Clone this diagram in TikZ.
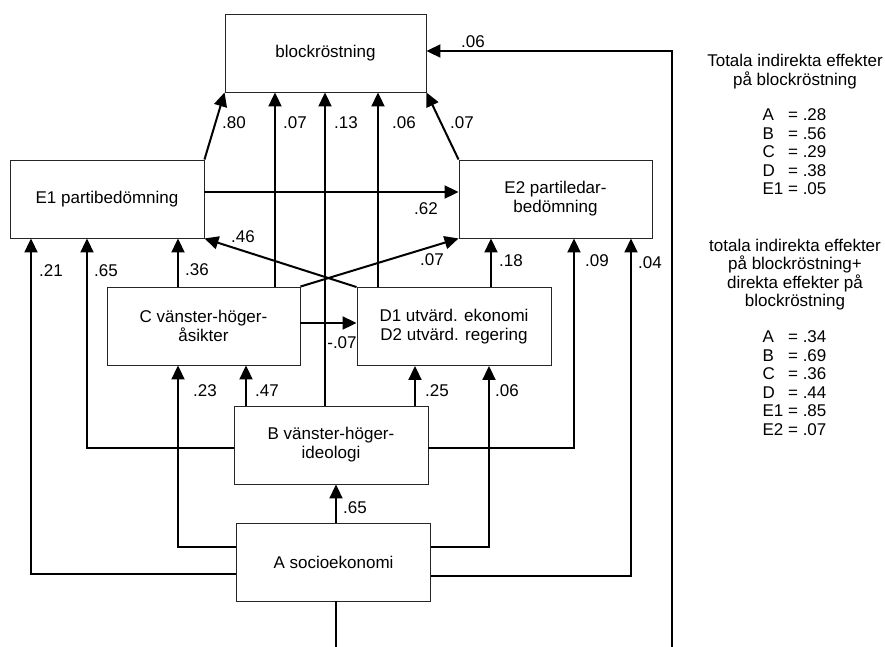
\documentclass[tikz,border=0pt]{standalone}
\usepackage{fontspec}
\setmainfont{Liberation Sans}
\usetikzlibrary{arrows.meta}
\tikzset{
  >={Triangle[length=14pt, width=13pt]},
  every picture/.style={line join=miter},
  box/.style={draw=black!85, line width=0.9pt, minimum width=194pt, minimum height=78pt,
    align=center, font=\fontsize{17}{19}\selectfont},
  arr/.style={->, line width=2pt},
  lab/.style={inner sep=0pt, font=\fontsize{17}{19}\selectfont},
  legend/.style={inner sep=0pt, align=center, font=\fontsize{17}{18.5}\selectfont},
}

\begin{document}
\begin{tikzpicture}[x=1pt, y=-1pt]
  \clip (0,0) rectangle (885,646);
  % ---------------- boxes
  \node[box, minimum width=201pt] (blk) at (325.5,53) {blockröstning};
  \node[box] (E1) at (107,199) {E1 partibedömning};
  \node[box, minimum width=193pt] (E2) at (555.5,199) {E2 partiledar-\\bedömning};
  \node[box, minimum width=193pt] (C) at (203.5,326) {C vänster-höger-\\åsikter};
  \node[box] (D) at (454,326.5) {D1 utvärd. ekonomi\\D2 utvärd. regering};
  \node[box] (B) at (331,445) {B vänster-höger-\\ideologi};
  \node[box] (A) at (333.5,562) {A socioekonomi};
  % ---------------- direct paths to blockröstning
  \draw[arr] (E1.north east) -- (blk.south west);
  \draw[arr] (C.north -| 275,0) -- (blk.south -| 275,0);
  \draw[arr] (B.north -| 325,0) -- (blk.south -| 325,0);
  \draw[arr] (D.north -| 378,0) -- (blk.south -| 378,0);
  \draw[arr] (E2.north west) -- (blk.south east);
  \draw[arr] (A.south -| 336,0) -- (336,700) -| (672,51) -- (blk.east |- 0,51);
  % ---------------- paths to E1 and E2
  \draw[arr] (E1.east |- 0,192) -- (E2.west |- 0,192);
  \draw[arr] (D.north west) -- (E1.south east);
  \draw[arr] (C.north east) -- (E2.south west);
  \draw[arr] (C.north -| 178,0) -- (E1.south -| 178,0);
  \draw[arr] (D.north -| 491,0) -- (E2.south -| 491,0);
  \draw[arr] (B.west |- 0,448) -| (E1.south -| 87,0);
  \draw[arr] (A.west |- 0,574) -| (E1.south -| 31,0);
  \draw[arr] (B.east |- 0,448) -| (E2.south -| 574,0);
  \draw[arr] (A.east |- 0,576) -| (E2.south -| 631,0);
  % ---------------- paths to C and D
  \draw[arr] (C.east |- 0,323) -- (D.west |- 0,323);
  \draw[arr] (A.west |- 0,547) -| (C.south -| 178,0);
  \draw[arr] (B.north -| 246,0) -- (C.south -| 246,0);
  \draw[arr] (B.north -| 415,0) -- (D.south -| 415,0);
  \draw[arr] (A.east |- 0,547) -| (D.south -| 489,0);
  \draw[arr] (A.north -| 336,0) -- (B.south -| 336,0);
  % ---------------- coefficients
  \node[lab] (w1) at (234,123) {.80};
  \node[lab] (w2) at (295,123) {.07};
  \node[lab] (w3) at (346,123) {.13};
  \node[lab] (w4) at (404,123) {.06};
  \node[lab] (w5) at (462,123) {.07};
  \node[lab] (w6) at (473,42) {.06};
  \node[lab] (w7) at (426,209) {.62};
  \node[lab] (w8) at (243,237) {.46};
  \node[lab] (w9) at (432,260) {.07};
  \node[lab] (w10) at (51,271) {.21};
  \node[lab] (w11) at (106,271) {.65};
  \node[lab] (w12) at (197,270) {.36};
  \node[lab] (w13) at (511,261) {.18};
  \node[lab] (w14) at (597,261) {.09};
  \node[lab] (w15) at (650,263) {.04};
  \node[lab] (w16) at (342,343) {-.07};
  \node[lab] (w17) at (205,391) {.23};
  \node[lab] (w18) at (267,391) {.47};
  \node[lab] (w19) at (437,391) {.25};
  \node[lab] (w20) at (507,391) {.06};
  \node[lab] (w21) at (355,508) {.65};
  % ---------------- legend
  \node[legend] (ind) at (795,71.5) {Totala indirekta effekter\\på blockröstning};
  \node[legend] (indv) at (794.5,154) {\begin{tabular}{@{}l@{\ }l@{}}
    A & = .28\\ B & = .56\\ C & = .29\\ D & = .38\\ E1 & = .05\end{tabular}};
  \node[legend] (tot) at (795,274.5) {totala indirekta effekter\\på blockröstning+\\direkta effekter på\\blockröstning};
  \node[legend] (totv) at (794.5,385.5) {\begin{tabular}{@{}l@{\ }l@{}}
    A & = .34\\ B & = .69\\ C & = .36\\ D & = .44\\ E1 & = .85\\ E2 & = .07\end{tabular}};
\end{tikzpicture}
\end{document}
